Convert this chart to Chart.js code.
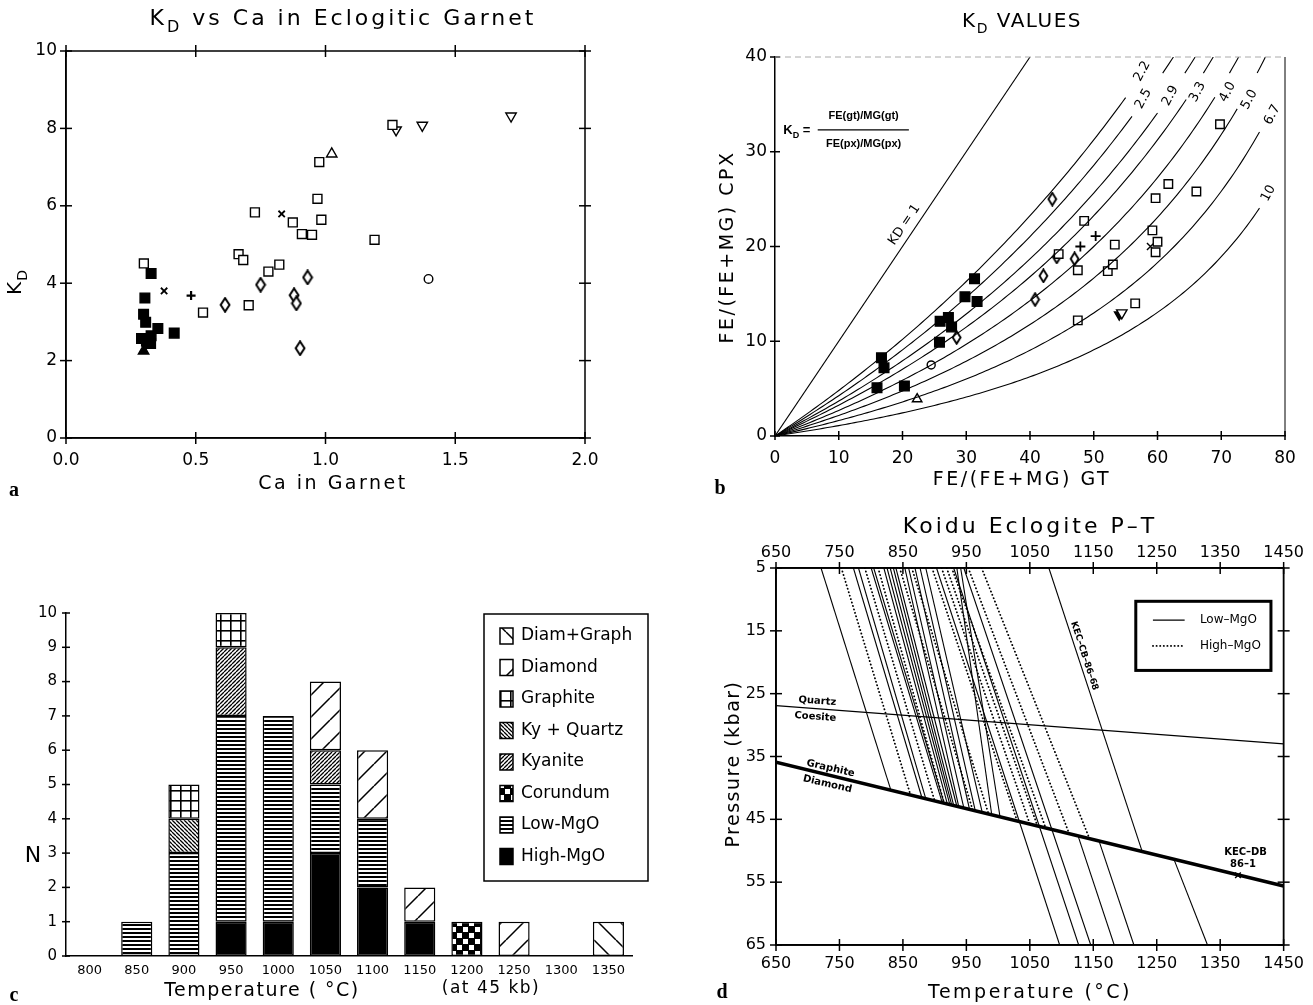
<!DOCTYPE html>
<html>
<head>
<meta charset="utf-8">
<title>Koidu eclogite KD and P-T</title>
<script src="https://cdn.jsdelivr.net/npm/chart.js@4.4.1/dist/chart.umd.min.js"></script>
<style>
  body { margin: 0; background: #fff; }
  #page { position: relative; width: 1313px; height: 1005px; overflow: hidden; background: #fff; }
  #page canvas { position: absolute; }
</style>
</head>
<body>
<div id="page">
  <canvas id="chartA" width="650" height="500" style="left:0;top:0"></canvas>
  <canvas id="chartB" width="663" height="500" style="left:650px;top:0"></canvas>
  <canvas id="chartC" width="650" height="505" style="left:0;top:500px"></canvas>
  <canvas id="chartD" width="663" height="505" style="left:650px;top:500px"></canvas>
</div>
<script>
// ---------- panel a : KD vs Ca in garnet ----------
const aOpenSq = [[0.30,4.51],[0.665,4.75],[0.683,4.60],[0.728,5.83],[0.78,4.30],[0.822,4.48],[0.874,5.57],
  [0.909,5.27],[0.948,5.25],[0.969,6.18],[0.976,7.13],[0.984,5.64],[0.528,3.24],[0.704,3.43],[1.189,5.12],[1.258,8.09]];
const aFilledSq = [[0.328,4.25],[0.304,3.62],[0.299,3.20],[0.307,2.99],[0.354,2.83],[0.328,2.64],[0.291,2.57],
  [0.326,2.44],[0.31,2.50],[0.417,2.71]];
const aFilledTri = [[0.299,2.25]];
const aCrossX = [[0.378,3.80],[0.831,5.79]];
const aPlus = [[0.482,3.68]];
const aDiamond = [[0.613,3.44],[0.750,3.96],[0.879,3.69],[0.888,3.48],[0.931,4.15],[0.902,2.32]];
const aTriUp = [[1.024,7.34]];
const aTriDown = [[1.272,7.96],[1.373,8.08],[1.715,8.32]];
const aCircle = [[1.397,4.11]];

// ---------- panel b : KD values ----------
const bFilledSq = [[16.7,8.26],[17.1,7.2],[16.0,5.1],[20.3,5.27],[25.9,12.1],[25.8,9.9],[27.2,12.5],[27.7,11.5],
  [29.8,14.7],[31.3,16.6],[31.7,14.2]];
const bOpenSq = [[44.5,19.2],[47.5,17.5],[48.5,22.7],[47.5,12.2],[52.2,17.4],[53.0,18.1],[53.3,20.2],[56.5,14.0],
  [59.2,21.7],[59.7,25.1],[59.7,19.4],[60.0,20.5],[61.7,26.6],[66.1,25.8],[69.8,32.9]];
const bDiamond = [[28.5,10.4],[40.8,14.4],[42.1,16.9],[43.5,25.0],[44.2,18.9],[47.0,18.7]];
const bCircle = [[24.5,7.5]];
const bTriUp = [[22.3,3.9]];
const bTriDownFilled = [[54.0,12.8]];
const bTriDownOpen = [[54.4,13.0]];
const bPlus = [[47.9,20.0],[50.3,21.1]];
const bCrossX = [[58.9,20.0]];
const kdValues = [2.2, 2.5, 2.9, 3.3, 4.0, 5.0, 6.7, 10];
const kdLabels = ['2.2', '2.5', '2.9', '3.3', '4.0', '5.0', '6.7', '10'];
const kdCurveEnd = [55, 56, 60, 64.5, 69, 72.5, 76, 76];
const kdHasStub = [false, true, true, true, true, true, false, false];
const kdLabelPos = [[57.6,38.5],[57.8,35.6],[62,35.9],[66.3,36.3],[71,36.3],[74.4,35.5],[78,33.9],[77.4,25.6]];

// ---------- panel c : temperature histogram ----------
const tempCats = ['800','850','900','950','1000','1050','1100','1150','1200','1250','1300','1350'];
const highMgO   = [0,0,0,1,1,3,2,1,0,0,0,0];
const lowMgO    = [0,1,3,6,6,2,2,0,0,0,0,0];
const corundum  = [0,0,0,0,0,0,0,0,1,0,0,0];
const kyanite   = [0,0,0,2,0,1,0,0,0,0,0,0];
const kyQuartz  = [0,0,1,0,0,0,0,0,0,0,0,0];
const graphite  = [0,0,1,1,0,0,0,0,0,0,0,0];
const diamond   = [0,0,0,0,0,2,2,1,0,1,0,0];
const diamGraph = [0,0,0,0,0,0,0,0,0,0,0,1];

// ---------- panel d : P-T lines ----------
// Low-MgO lines: T at 5 kbar and T where they stop on graphite/diamond
const lowTop = [721,772,780,800,804,820,825,830,835,839,853,859,869,877,886,935,941];
const lowEnd = [831,880,886,912,915,920,924,927,930,935,938,946,955,964,975,990,1003];
// High-MgO lines
const highTop = [753,790,811,845,864,896,911,919,927,953,974];
const highEnd = [862,900,915,960,985,1030,1050,1062,1075,1112,1144];
// Low-MgO lines running through to 65 kbar
const longTop = [903,930,946];
const longBottom = [1097,1127,1146];
// Low-MgO lines only below graphite/diamond
const lowerStart = [1126,1159,1277];
const lowerBottom = [1183,1214,1330];
const kecCB = [1080, 1227];
const gdP = [35.9, 55.6];   // graphite-diamond P at 650 and 1450 C
const qcP = [26.9, 33.0];   // quartz-coesite P at 650 and 1450 C
const kecDB = [[1378, 53.9]];

const SANS = '"DejaVu Sans", sans-serif';
Chart.defaults.font.family = SANS;
Chart.defaults.color = '#000';
Chart.defaults.animation = false;
Chart.defaults.plugins.legend.display = false;
Chart.defaults.plugins.tooltip.enabled = false;

function pts(arr) { return arr.map(([x, y]) => ({ x, y })); }

function drawParts(ctx, parts, size, family, weight, align) {
  if (typeof parts === 'string') parts = [[parts]];
  const fonts = parts.map(p => (weight || 'normal') + ' ' + (p[1] === 'sub' ? Math.round(size * 0.72) : size) + 'px ' + family);
  let total = 0;
  const widths = parts.map((p, i) => { ctx.font = fonts[i]; const w = ctx.measureText(p[0]).width; total += w; return w; });
  let x = align === 'left' ? 0 : align === 'right' ? -total : -total / 2;
  ctx.textAlign = 'left';
  ctx.textBaseline = 'middle';
  parts.forEach((p, i) => {
    ctx.font = fonts[i];
    ctx.fillText(p[0], x, p[1] === 'sub' ? size * 0.38 : 0);
    x += widths[i];
  });
}

// free text: titles, axis titles, annotations
const notesPlugin = {
  id: 'notes',
  afterDraw(chart, args, opts) {
    const ctx = chart.ctx;
    (opts.items || []).forEach(it => {
      let x = it.x, y = it.y;
      if (it.data) {
        x = chart.scales[it.xs || 'x'].getPixelForValue(it.x);
        y = chart.scales[it.ys || 'y'].getPixelForValue(it.y);
      }
      ctx.save();
      ctx.fillStyle = '#000';
      ctx.letterSpacing = it.spacing || '0px';
      ctx.translate(x, y);
      if (it.rot) ctx.rotate(it.rot * Math.PI / 180);
      drawParts(ctx, it.text, it.size || 16, it.family || SANS, it.weight, it.align);
      ctx.restore();
    });
  }
};

// frame and tick marks crossing the axes
const axesPlugin = {
  id: 'axesDeco',
  afterDraw(chart, args, o) {
    const { ctx, chartArea: a } = chart;
    ctx.save();
    ctx.strokeStyle = '#000';
    if (o.frame) {
      ctx.lineWidth = o.frame;
      ctx.strokeRect(a.left, a.top, a.right - a.left, a.bottom - a.top);
    }
    ctx.lineWidth = o.tickWidth || 1.5;
    (o.ticks || []).forEach(([side, id, inLen, outLen]) => {
      const sc = chart.scales[id];
      sc.ticks.forEach(t => {
        const p = sc.getPixelForValue(t.value);
        ctx.beginPath();
        if (side === 'bottom') { ctx.moveTo(p, a.bottom - inLen); ctx.lineTo(p, a.bottom + outLen); }
        else if (side === 'top') { ctx.moveTo(p, a.top + inLen); ctx.lineTo(p, a.top - outLen); }
        else if (side === 'left') { ctx.moveTo(a.left + inLen, p); ctx.lineTo(a.left - outLen, p); }
        else { ctx.moveTo(a.right - inLen, p); ctx.lineTo(a.right + outLen, p); }
        ctx.stroke();
      });
    });
    ctx.restore();
  }
};
Chart.register(notesPlugin, axesPlugin);

function glyphDiamond(w, h, lw) {
  const c = document.createElement('canvas');
  c.width = w; c.height = h;
  const g = c.getContext('2d');
  g.strokeStyle = '#000'; g.lineWidth = lw; g.fillStyle = '#fff';
  g.beginPath();
  g.moveTo(w / 2, 1.2); g.lineTo(w - 1.6, h / 2); g.lineTo(w / 2, h - 1.2); g.lineTo(1.6, h / 2);
  g.closePath(); g.fill(); g.stroke();
  return c;
}

function markers(label, arr, style, filled, radius, extra) {
  return Object.assign({
    label, data: pts(arr), pointStyle: style, pointRadius: radius,
    pointBackgroundColor: filled ? '#000' : '#fff', pointBorderColor: '#000',
    pointBorderWidth: 1.4, showLine: false
  }, extra || {});
}

function linScale(min, max, step, extra) {
  return Object.assign({
    type: 'linear', min, max,
    grid: { display: false, drawTicks: false },
    border: { display: true, color: '#000', width: 1.5 },
    ticks: { stepSize: step, font: { size: 16 }, color: '#000', padding: 10, maxRotation: 0 }
  }, extra || {});
}
const plain = v => String(v);

// ===== chart a =====
new Chart(document.getElementById('chartA'), {
  type: 'scatter',
  data: {
    datasets: [
      markers('open square', aOpenSq, 'rect', false, 6.3),
      markers('filled square', aFilledSq, 'rect', true, 6.8),
      markers('filled triangle', aFilledTri, 'triangle', true, 6),
      markers('cross', aCrossX, 'crossRot', false, 4.5, { pointBorderWidth: 1.8 }),
      markers('plus', aPlus, 'cross', false, 4.5, { pointBorderWidth: 2.2 }),
      markers('diamond', aDiamond, glyphDiamond(12, 16, 2), false, 5),
      markers('triangle up', aTriUp, 'triangle', false, 6),
      markers('triangle down', aTriDown, 'triangle', false, 6, { pointRotation: 180 }),
      markers('circle', aCircle, 'circle', false, 4.3)
    ]
  },
  options: {
    responsive: false,
    layout: { padding: { left: 0, right: 65, top: 51, bottom: 0 } },
    scales: {
      x: linScale(0, 2, 0.5, { afterFit: s => { s.height = 62; },
        ticks: { stepSize: 0.5, font: { size: 17 }, padding: 12, callback: v => v.toFixed(1) } }),
      y: linScale(0, 10, 2, { afterFit: s => { s.width = 66; }, ticks: { stepSize: 2, font: { size: 17 }, padding: 9 } })
    },
    plugins: {
      axesDeco: { frame: 1.5, ticks: [['bottom','x',6,6],['top','x',6,6],['left','y',6,6],['right','y',6,6]] },
      notes: { items: [
        { text: [['K'],['D','sub'],[' vs Ca in Eclogitic Garnet']], x: 343, y: 19, size: 22, spacing: '3px' },
        { text: [['K'],['D','sub']], x: 16, y: 282, size: 20, rot: -90, spacing: '1px' },
        { text: 'Ca in Garnet', x: 333, y: 484, size: 19, spacing: '2.5px' },
        { text: 'a', x: 14, y: 491, size: 20, weight: 'bold', family: '"Liberation Serif", serif' }
      ] }
    }
  }
});

// ===== chart b =====
function kdPoint(kd, x) { const s = x / (100 - x) / kd; return { x, y: 100 * s / (1 + s) }; }
function kdXAt(kd, y) { const s = kd * y / (100 - y); return 100 * s / (1 + s); }
function kdCurve(kd, x0, x1) {
  const out = [];
  for (let x = x0; x < x1; x += 0.5) out.push(kdPoint(kd, x));
  out.push(kdPoint(kd, x1));
  return out;
}
const curveStyle = { showLine: true, pointRadius: 0, borderColor: '#000', borderWidth: 1.1, fill: false };
const bDatasets = [Object.assign({ label: 'KD = 1', data: [{ x: 0, y: 0 }, { x: 40, y: 40 }] }, curveStyle)];
kdValues.forEach((kd, i) => {
  bDatasets.push(Object.assign({ label: 'KD ' + kdLabels[i], data: kdCurve(kd, 0, kdCurveEnd[i]) }, curveStyle));
  if (kdHasStub[i]) {
    bDatasets.push(Object.assign({ label: 'KD ' + kdLabels[i] + ' top', data: kdCurve(kd, kdXAt(kd, 38.3), kdXAt(kd, 40)) }, curveStyle));
  }
});
bDatasets.push(
  markers('filled square', bFilledSq, 'rect', true, 6.8),
  markers('open square', bOpenSq, 'rect', false, 6),
  markers('diamond', bDiamond, glyphDiamond(11, 15, 1.9), false, 5),
  markers('circle', bCircle, 'circle', false, 4),
  markers('triangle up', bTriUp, 'triangle', false, 5.5),
  markers('triangle down open', bTriDownOpen, 'triangle', false, 6, { pointRotation: 180 }),
  markers('triangle down filled', bTriDownFilled, 'triangle', true, 5.5, { pointRotation: 180 }),
  markers('plus', bPlus, 'cross', false, 5, { pointBorderWidth: 1.8 }),
  markers('cross', bCrossX, 'crossRot', false, 5, { pointBorderWidth: 1.4 })
);
const bNotes = [
  { text: [['K'],['D','sub'],[' VALUES']], x: 372, y: 22, size: 20, spacing: '1.5px' },
  { text: 'FE/(FE+MG) CPX', x: 78, y: 247, size: 19, rot: -90, spacing: '2.5px' },
  { text: 'FE/(FE+MG) GT', x: 372, y: 480, size: 19, spacing: '2.5px' },
  { text: 'b', x: 70, y: 489, size: 20, weight: 'bold', family: '"Liberation Serif", serif' },
  { text: 'KD = 1', data: true, x: 20.3, y: 22.3, size: 13, rot: -56 },
  { text: [['K'],['D','sub'],[' =']], data: true, x: 1.3, y: 32.2, size: 13, weight: 'bold', align: 'left', family: '"Liberation Sans", sans-serif' },
  { text: 'FE(gt)/MG(gt)', data: true, x: 13.9, y: 33.8, size: 11, weight: 'bold', family: '"Liberation Sans", sans-serif' },
  { text: 'FE(px)/MG(px)', data: true, x: 13.9, y: 30.8, size: 11, weight: 'bold', family: '"Liberation Sans", sans-serif' }
];
kdLabels.forEach((t, i) => bNotes.push({ text: t, data: true, x: kdLabelPos[i][0], y: kdLabelPos[i][1], size: 13, rot: -62 }));
new Chart(document.getElementById('chartB'), {
  type: 'scatter',
  data: { datasets: bDatasets },
  options: {
    responsive: false,
    layout: { padding: { left: 0, right: 28, top: 57, bottom: 0 } },
    scales: {
      x: linScale(0, 80, 10, { afterFit: s => { s.height = 64; }, ticks: { stepSize: 10, font: { size: 17 }, padding: 12 } }),
      y: linScale(0, 40, 10, { afterFit: s => { s.width = 125; }, ticks: { stepSize: 10, font: { size: 17 }, padding: 8 } })
    },
    plugins: {
      axesDeco: { ticks: [['bottom','x',5,4],['left','y',5,5]] },
      notes: { items: bNotes }
    }
  },
  plugins: [{
    id: 'bExtras',
    afterDraw(chart) {
      const { ctx, chartArea: a, scales: { x, y } } = chart;
      ctx.save();
      ctx.strokeStyle = '#000';
      ctx.lineWidth = 1.3;
      ctx.beginPath();
      ctx.moveTo(x.getPixelForValue(6.7), y.getPixelForValue(32.3));
      ctx.lineTo(x.getPixelForValue(21), y.getPixelForValue(32.3));
      ctx.stroke();
      ctx.lineWidth = 1;
      ctx.beginPath(); ctx.moveTo(a.right, a.top); ctx.lineTo(a.right, a.bottom); ctx.stroke();
      ctx.strokeStyle = '#aaa'; ctx.setLineDash([6, 4]);
      ctx.beginPath(); ctx.moveTo(a.left, a.top); ctx.lineTo(a.right, a.top); ctx.stroke();
      ctx.restore();
    }
  }]
});

// ===== chart c =====
function makePattern(w, h, draw, bg) {
  const c = document.createElement('canvas');
  c.width = w; c.height = h;
  const g = c.getContext('2d');
  g.fillStyle = bg || '#fff'; g.fillRect(0, 0, w, h);
  g.fillStyle = '#000'; g.strokeStyle = '#000';
  draw(g, w, h);
  return g.createPattern(c, 'repeat');
}
function diag(g, w, h, lw, back) {
  g.lineWidth = lw;
  g.beginPath();
  for (let k = -1; k <= 1; k++) {
    if (back) { g.moveTo(k * w, 0); g.lineTo(k * w + w, h); }
    else { g.moveTo(k * w, h); g.lineTo(k * w + w, 0); }
  }
  g.stroke();
}
const patHigh = '#000';
const patLow = makePattern(8, 4, g => g.fillRect(0, 0, 8, 2));
const patCorundum = makePattern(12, 12, g => { g.fillStyle = '#fff'; g.fillRect(1, 1, 5, 5); g.fillRect(7, 7, 5, 5); }, '#000');
const patKyanite = makePattern(4, 4, (g, w, h) => diag(g, w, h, 1.3, false));
const patKyQuartz = makePattern(4, 4, (g, w, h) => diag(g, w, h, 1.3, true));
const patGraphite = makePattern(10, 10, g => { g.fillRect(0, 0, 10, 1.6); g.fillRect(0, 0, 1.6, 10); });
const patDiamond = makePattern(22, 22, (g, w, h) => diag(g, w, h, 1.5, false));
const patDiamGraph = makePattern(22, 22, (g, w, h) => diag(g, w, h, 1.5, true));
const cSeries = [
  ['High-MgO', highMgO, patHigh],
  ['Low-MgO', lowMgO, patLow],
  ['Corundum', corundum, patCorundum],
  ['Kyanite', kyanite, patKyanite],
  ['Ky + Quartz', kyQuartz, patKyQuartz],
  ['Graphite', graphite, patGraphite],
  ['Diamond', diamond, patDiamond],
  ['Diam+Graph', diamGraph, patDiamGraph]
];
new Chart(document.getElementById('chartC'), {
  type: 'bar',
  data: {
    labels: tempCats,
    datasets: cSeries.map(([label, vals, bg]) => ({
      label, data: vals.map(v => v || null), backgroundColor: bg,
      borderColor: '#000', borderWidth: 1.5, borderSkipped: false,
      barPercentage: 0.66, categoryPercentage: 1
    }))
  },
  options: {
    responsive: false,
    layout: { padding: { left: 0, right: 18, top: 113, bottom: 0 } },
    scales: {
      x: { stacked: true, grid: { display: false, drawTicks: false },
           border: { display: true, color: '#000', width: 1.5 },
           ticks: { font: { size: 13 }, padding: 7, maxRotation: 0, autoSkip: false },
           afterFit: s => { s.height = 49; } },
      y: { stacked: true, min: 0, max: 10, grid: { display: false, drawTicks: false },
           border: { display: true, color: '#000', width: 1.5 },
           ticks: { stepSize: 1, font: { size: 15 }, padding: 9 },
           afterFit: s => { s.width = 66; } }
    },
    plugins: {
      axesDeco: { ticks: [['left','y',4,4]] },
      notes: { items: [
        { text: 'N', x: 33, y: 356, size: 22 },
        { text: 'Temperature ( °C)', x: 262, y: 491, size: 19, spacing: '1.5px' },
        { text: '(at 45 kb)', x: 491, y: 489, size: 17, spacing: '1.5px' },
        { text: 'c', x: 14, y: 496, size: 20, weight: 'bold', family: '"Liberation Serif", serif' }
      ] }
    }
  },
  plugins: [{
    id: 'cLegend',
    afterDraw(chart) {
      const ctx = chart.ctx;
      const box = { left: 484, top: 114, right: 648, bottom: 381 };
      ctx.save();
      ctx.fillStyle = '#fff';
      ctx.fillRect(box.left, box.top, box.right - box.left, box.bottom - box.top);
      ctx.strokeStyle = '#000'; ctx.lineWidth = 1.5;
      ctx.strokeRect(box.left, box.top, box.right - box.left, box.bottom - box.top);
      const items = cSeries.slice().reverse();
      ctx.font = '17px ' + SANS;
      ctx.textBaseline = 'middle';
      items.forEach(([label, vals, bg], i) => {
        const yc = 136 + i * 31.5;
        ctx.fillStyle = bg;
        ctx.fillRect(500, yc - 8, 13, 16);
        ctx.strokeRect(500, yc - 8, 13, 16);
        ctx.fillStyle = '#000';
        ctx.fillText(label, 521, yc);
      });
      ctx.restore();
    }
  }]
});

// ===== chart d =====
const tMin = 650, tMax = 1450;
function gdAt(t) { return gdP[0] + (t - tMin) * (gdP[1] - gdP[0]) / (tMax - tMin); }
function seg(label, t1, p1, t2, p2, dotted) {
  return {
    label, data: [{ x: t1, y: p1 }, { x: t2, y: p2 }], showLine: true, pointRadius: 0, fill: false,
    borderColor: '#000', borderWidth: dotted ? 1.8 : 1.1, borderDash: dotted ? [0.2, 3.4] : [],
    borderCapStyle: dotted ? 'round' : 'butt'
  };
}
const dDatasets = [];
lowTop.forEach((t, i) => dDatasets.push(seg('Low-MgO', t, 5, lowEnd[i], gdAt(lowEnd[i]), false)));
highTop.forEach((t, i) => dDatasets.push(seg('High-MgO', t, 5, highEnd[i], gdAt(highEnd[i]), true)));
longTop.forEach((t, i) => dDatasets.push(seg('Low-MgO', t, 5, longBottom[i], 65, false)));
lowerStart.forEach((t, i) => dDatasets.push(seg('Low-MgO', t, gdAt(t), lowerBottom[i], 65, false)));
dDatasets.push(seg('KEC-CB-86-68', kecCB[0], 5, kecCB[1], gdAt(kecCB[1]), false));
dDatasets.push(Object.assign(seg('Quartz/Coesite', tMin, qcP[0], tMax, qcP[1], false), { borderWidth: 1.3 }));
dDatasets.push(Object.assign(seg('Graphite/Diamond', tMin, gdP[0], tMax, gdP[1], false), { borderWidth: 3.5 }));
dDatasets.push(markers('KEC-DB 86-1', kecDB, 'crossRot', false, 4, { pointBorderWidth: 1.4 }));

new Chart(document.getElementById('chartD'), {
  type: 'scatter',
  data: { datasets: dDatasets },
  options: {
    responsive: false,
    layout: { padding: { left: 0, right: 25, top: 38, bottom: 0 } },
    scales: {
      x: linScale(tMin, tMax, 100, { afterFit: s => { s.height = 60; }, ticks: { stepSize: 100, font: { size: 16 }, padding: 9, callback: plain } }),
      x2: linScale(tMin, tMax, 100, { position: 'top', afterFit: s => { s.height = 30; }, ticks: { stepSize: 100, font: { size: 16 }, padding: 6, callback: plain } }),
      y: linScale(5, 65, 10, { reverse: true, afterFit: s => { s.width = 126; }, ticks: { stepSize: 10, font: { size: 16 }, padding: 10 } })
    },
    plugins: {
      axesDeco: { frame: 1.8, ticks: [['bottom','x',6,6],['top','x2',6,6],['left','y',6,6],['right','y',6,6]] },
      notes: { items: [
        { text: 'Koidu Eclogite P\u2013T', x: 380, y: 27, size: 22, spacing: '3px' },
        { text: 'Pressure (kbar)', x: 84, y: 264, size: 19, rot: -90, spacing: '1.5px' },
        { text: 'Temperature (°C)', x: 380, y: 493, size: 19, spacing: '2.5px' },
        { text: 'd', x: 72, y: 493, size: 20, weight: 'bold', family: '"Liberation Serif", serif' },
        { text: 'Quartz', data: true, x: 715, y: 26.2, size: 10, weight: 'bold', rot: 4 },
        { text: 'Coesite', data: true, x: 712, y: 28.7, size: 10, weight: 'bold', rot: 4 },
        { text: 'Graphite', data: true, x: 736, y: 36.9, size: 10, weight: 'bold', rot: 13 },
        { text: 'Diamond', data: true, x: 731, y: 39.4, size: 10, weight: 'bold', rot: 13 },
        { text: 'KEC\u2013CB\u201386\u201368', data: true, x: 1136, y: 19, size: 9, weight: 'bold', rot: 72 },
        { text: 'KEC\u2013DB', data: true, x: 1390, y: 50.2, size: 10, weight: 'bold' },
        { text: '86\u20131', data: true, x: 1386, y: 52.1, size: 10, weight: 'bold' },
        { text: 'Low\u2013MgO', data: true, x: 1318, y: 13.3, size: 12, align: 'left' },
        { text: 'High\u2013MgO', data: true, x: 1318, y: 17.4, size: 12, align: 'left' }
      ] }
    }
  },
  plugins: [{
    id: 'dLegend',
    afterDraw(chart) {
      const { ctx, scales: { x, y } } = chart;
      ctx.save();
      ctx.strokeStyle = '#000';
      ctx.lineWidth = 3;
      const l = x.getPixelForValue(1217), r = x.getPixelForValue(1430);
      const t = y.getPixelForValue(10.3), b = y.getPixelForValue(21.3);
      ctx.strokeRect(l, t, r - l, b - t);
      ctx.lineWidth = 1.1;
      ctx.beginPath();
      ctx.moveTo(x.getPixelForValue(1244), y.getPixelForValue(13.3));
      ctx.lineTo(x.getPixelForValue(1294), y.getPixelForValue(13.3));
      ctx.stroke();
      ctx.lineWidth = 1.8; ctx.lineCap = 'round'; ctx.setLineDash([0.2, 3.4]);
      ctx.beginPath();
      ctx.moveTo(x.getPixelForValue(1244), y.getPixelForValue(17.4));
      ctx.lineTo(x.getPixelForValue(1294), y.getPixelForValue(17.4));
      ctx.stroke();
      ctx.restore();
    }
  }]
});
</script>
</body>
</html>
